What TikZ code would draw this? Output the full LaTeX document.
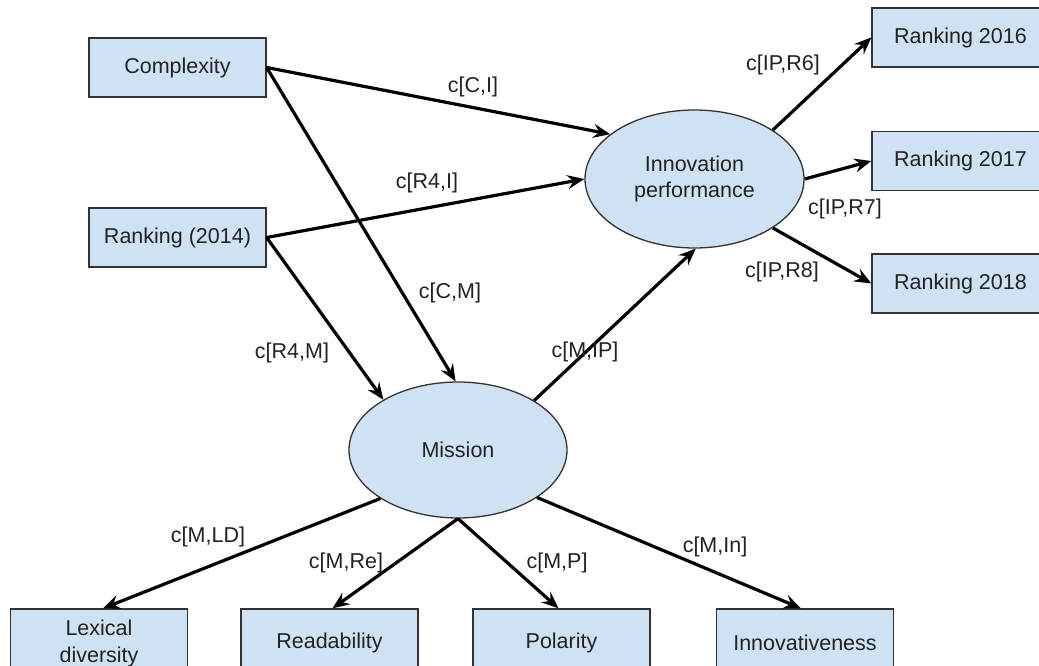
\documentclass[tikz,border=0pt]{standalone}
\usepackage{fontspec}
\setmainfont{Liberation Sans}
\usetikzlibrary{shapes.geometric,arrows.meta}
\definecolor{boxfill}{HTML}{CFE2F3}
\definecolor{boxline}{HTML}{333333}
\definecolor{txt}{HTML}{222222}
\tikzset{
  box/.style={draw=boxline,line width=1.3pt,fill=boxfill,rectangle,minimum width=177pt,minimum height=59pt,inner sep=0pt,text=txt,align=center,font=\fontsize{21.5}{27}\selectfont},
  oval/.style={draw=boxline,line width=1.3pt,fill=boxfill,ellipse,inner sep=0pt,text=txt,align=center,font=\fontsize{21.5}{26}\selectfont},
  lbl/.style={inner sep=0pt,text=txt,font=\fontsize{21.5}{26}\selectfont},
  conn/.style={line width=3.2pt,black,-{Stealth[length=17pt,width=14pt,inset=6pt]}}
}
\begin{document}
\begin{tikzpicture}[x=1pt,y=-1pt]
\useasboundingbox[fill=white] (0,0) rectangle (1039,666);
\begin{scope}
\clip (0,0) rectangle (1039,666);
% nodes
\node[box] (C) at (177.5,67.5) {Complexity};
\node[box] (R14) at (177.5,237.5) {Ranking (2014)};
\node[box] (R16) at (960.5,37.5) {Ranking 2016};
\node[box] (R17) at (960.5,161) {Ranking 2017};
\node[box] (R18) at (960.5,283.5) {Ranking 2018};
\node[oval,minimum width=219pt,minimum height=138pt] (IP) at (694.5,179) {Innovation\\performance};
\node[oval,minimum width=218pt,minimum height=136pt] (M) at (458,450) {Mission};
\node[box,minimum height=68pt] (LD) at (99,643) {Lexical\\diversity};
\node[box,minimum height=68pt] (Re) at (329.5,643) {Readability};
\node[box,minimum height=68pt] (P) at (561.5,643) {Polarity};
\node[box,minimum height=68pt] (In) at (805,643) {Innovativeness};
% connectors
\draw[conn] (C.east) -- (IP.152);
\draw[conn] (C.east) -- (M.92);
\draw[conn] (R14.east) -- (IP.west);
\draw[conn] (R14.east) -- (M.146);
\draw[conn] (M.33) -- (IP.271);
\draw[conn] (IP.32) -- (R16.west);
\draw[conn] (IP.east) -- (R17.west);
\draw[conn] (IP.-32) -- (R18.west);
\draw[conn] (M.212) -- ([xshift=4pt]LD.north);
\draw[conn] (M.south) -- ([xshift=3pt]Re.north);
\draw[conn] (M.south) -- ([xshift=-3pt]P.north);
\draw[conn] (M.-31) -- ([xshift=-4pt]In.north);
% labels
\node[lbl] (lCI) at (473,87) {c[C,I]};
\node[lbl] (lR4I) at (427,183) {c[R4,I]};
\node[lbl] (lCM) at (450,293) {c[C,M]};
\node[lbl] (lR4M) at (292,353) {c[R4,M]};
\node[lbl] (lMIP) at (585,352) {c[M,IP]};
\node[lbl] (lR6) at (783,65) {c[IP,R6]};
\node[lbl] (lR7) at (845,209) {c[IP,R7]};
\node[lbl] (lR8) at (782,272) {c[IP,R8]};
\node[lbl] (lLD) at (208,537) {c[M,LD]};
\node[lbl] (lRe) at (346,563) {c[M,Re]};
\node[lbl] (lP) at (557,563) {c[M,P]};
\node[lbl] (lIn) at (715,547) {c[M,In]};
\end{scope}
\end{tikzpicture}
\end{document}
